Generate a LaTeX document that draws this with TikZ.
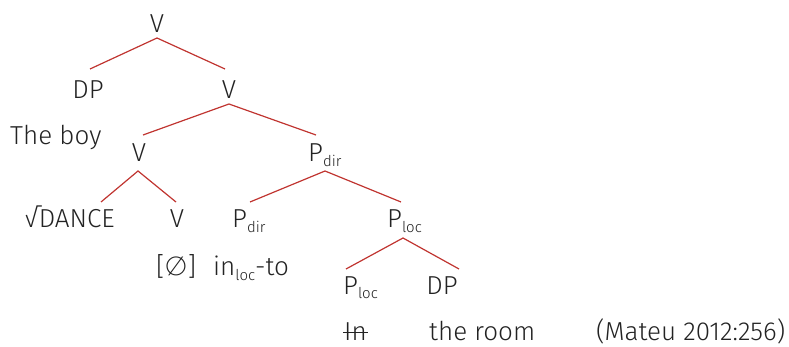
\documentclass[tikz,border=0pt]{standalone}
\usepackage{fontspec}
\setmainfont{Fira Sans Light}
\definecolor{branch}{RGB}{192,52,48}
\definecolor{ink}{RGB}{35,35,35}
\newcommand{\lsub}[1]{\raisebox{-0.3ex}{\fontsize{15}{15}\selectfont #1}}
\begin{document}
\begin{tikzpicture}[x=1pt,y=-1pt,
  lab/.style={anchor=base,inner sep=0pt,text=ink,font=\fontsize{26}{28}\selectfont},
  br/.style={draw=branch,line width=1.2pt}]
\useasboundingbox (0,0) rectangle (789,347);
% labels
\node[lab] (v1) at (157,33) {V};
\node[lab] (dp1) at (88,99) {DP};
\node[lab] (v2) at (229,99) {V};
\node[lab,anchor=base west] (boy) at (10,145) {The boy};
\node[lab] (v3) at (139,162) {V};
\node[lab,anchor=base west] (pdir1) at (308,162) {P\lsub{dir}};
\node[lab,anchor=base west] (dance) at (24,228) {√DANCE};
\node[lab] (v4) at (177,228) {V};
\node[lab,anchor=base west] (pdir2) at (232,228) {P\lsub{dir}};
\node[lab,anchor=base west] (ploc1) at (387,228) {P\lsub{loc}};
\node[lab,anchor=base west] (null) at (156,276) {[∅]};
\node[lab,anchor=base west] (into) at (213,276) {in\lsub{loc}-to};
\node[lab,anchor=base west] (ploc2) at (343,294) {P\lsub{loc}};
\node[lab] (dp2) at (442,294) {DP};
\node[lab,anchor=base west] (in) at (344,340) {In};
\node[lab,anchor=base west] (room) at (429,340) {the room};
\node[lab,anchor=base west] (cite) at (596,340) {(Mateu 2012:256)};
\draw[ink,line width=1pt] ([xshift=-1pt,yshift=8pt]in.base west) -- ([xshift=1pt,yshift=8pt]in.base east);
% branches
\coordinate (a1) at (157,38);
\coordinate (a2) at (229,104);
\coordinate (a3) at (138,171);
\coordinate (a4) at (325,171);
\coordinate (a5) at (403,238);
\draw[br] (90,69) -- (a1) -- (225,69);
\draw[br] (143,135) -- (a2) -- (316,135);
\draw[br] (101,202) -- (a3) -- (176,202);
\draw[br] (250,202) -- (a4) -- (401,202);
\draw[br] (346,269) -- (a5) -- (459,269);
\end{tikzpicture}
\end{document}
